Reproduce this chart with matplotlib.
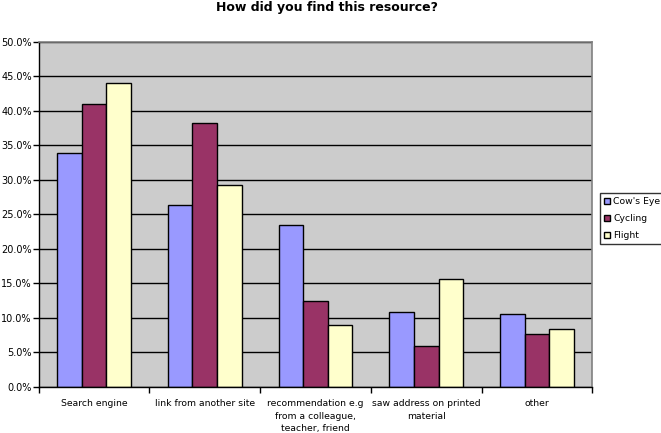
import matplotlib
matplotlib.use("Agg")
import matplotlib.pyplot as plt
import numpy as np
from matplotlib.ticker import FuncFormatter, MultipleLocator

categories = ["Search engine", "link from another site",
              "recommendation e.g\nfrom a colleague,\nteacher, friend",
              "saw address on printed\nmaterial", "other"]
series_names = ["Cow's Eye", "Cycling", "Flight"]
cows_eye = [33.8, 26.4, 23.5, 10.8, 10.5]
cycling = [41.0, 38.2, 12.5, 5.9, 7.6]
flight = [44.0, 29.2, 9.0, 15.7, 8.4]
colors = ["#9999FF", "#993366", "#FFFFCC"]

W, H = 661, 433
fig = plt.figure(figsize=(W / 100, H / 100), dpi=100)
ax = fig.add_axes([38.7 / W, (H - 387) / H, (592.3 - 38.7) / W, (387 - 41.5) / H])
ax.set_facecolor("#CCCCCC")

x = np.arange(len(categories))
bw = 0.222
for i, (vals, c, name) in enumerate(zip([cows_eye, cycling, flight], colors, series_names)):
    ax.bar(x + (i - 1) * bw, vals, width=bw, color=c, edgecolor="black",
           linewidth=1.0, label=name, zorder=3)

ax.set_xlim(-0.5, len(categories) - 0.5)
ax.set_ylim(0, 50)
ax.yaxis.set_major_locator(MultipleLocator(5))
ax.yaxis.set_major_formatter(FuncFormatter(lambda v, p: f"{v:.1f}%"))
ax.grid(axis="y", color="black", linewidth=1.0, zorder=1)
ax.set_axisbelow(True)

ax.set_xticks(np.arange(len(categories) + 1) - 0.5)
ax.set_xticklabels([])
ax.set_xticks(x, minor=True)
ax.set_xticklabels(categories, minor=True, fontsize=6.7, linespacing=1.45, va="top")
ax.tick_params(axis="x", which="major", length=4, width=1, direction="out", color="black")
ax.tick_params(axis="x", which="minor", length=0, pad=9)
ax.tick_params(axis="y", length=4, width=1, direction="out", labelsize=7, pad=1)

for s in ["top", "right"]:
    ax.spines[s].set_color("#808080")
    ax.spines[s].set_linewidth(1.2)
    ax.spines[s].set_zorder(5)
for s in ["left", "bottom"]:
    ax.spines[s].set_color("black")
    ax.spines[s].set_linewidth(1.0)
    ax.spines[s].set_zorder(5)

fig.text(326.5 / W, 1 - 0.5 / H, "How did you find this resource?", ha="center", va="top",
         fontsize=9, fontweight="bold")

leg = fig.legend(loc="upper left", bbox_to_anchor=(600 / W, 1 - 193 / H), fontsize=6.7,
                 frameon=True, fancybox=False, edgecolor="black", handlelength=0.6,
                 handleheight=0.6, handletextpad=0.4, borderpad=0.45, labelspacing=0.85,
                 borderaxespad=0)
leg.get_frame().set_linewidth(1.0)

fig.savefig("out.png", dpi=100, facecolor="white")
